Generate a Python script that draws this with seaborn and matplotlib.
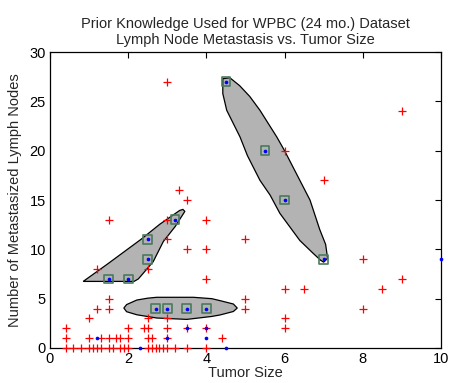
import numpy as np
import pandas as pd
import matplotlib
matplotlib.use("Agg")
import matplotlib.pyplot as plt
from matplotlib.patches import Polygon
import seaborn as sns

# ---------------- data ----------------
# non-recurrent cases (red +)
red_size = [3, 3.3, 3.5, 9, 6, 7, 1.5, 3, 4, 3, 5, 3.5, 4, 1.2, 2.5, 4, 9, 8, 6, 6.5, 8.5,
            1.5, 5, 1.2, 1.5, 5, 8, 1, 2.5, 3, 6,
            0.4, 2.0, 2.4, 2.5, 3.0, 3.5, 4.0, 6.0,
            0.4, 1.0, 1.3, 1.5, 1.7, 1.8, 2.0, 2.5, 2.6, 3.0, 4.4,
            0.4, 0.6, 0.8, 1.0, 1.1, 1.2, 1.3, 1.5, 1.6, 1.8, 1.9, 2.0, 2.5, 2.6, 2.7, 2.8,
            2.9, 3.0, 3.2, 3.5, 4.0]
red_nodes = [27, 16, 15, 24, 20, 17, 13, 13, 13, 11, 11, 10, 10, 8, 8, 7, 7, 9, 6, 6, 6,
             5, 5, 4, 4, 4, 4, 3, 3, 3, 3,
             2, 2, 2, 2, 2, 2, 2, 2,
             1, 1, 1, 1, 1, 1, 1, 1, 1, 1, 1,
             0, 0, 0, 0, 0, 0, 0, 0, 0, 0, 0, 0, 0, 0, 0, 0,
             0, 0, 0, 0, 0]
# recurrent cases (blue dots)
blue_size = [1.5, 2, 2.5, 2.5, 3.2, 2.7, 3, 3.5, 4, 4.5, 5.5, 6, 7,
             10, 4, 4, 3.5, 3, 1.2, 2.3, 4.5]
blue_nodes = [7, 7, 9, 11, 13, 4, 4, 4, 4, 27, 20, 15, 9,
              9, 1, 2, 2, 1, 1, 0, 0]
# prior-knowledge points (squares)
prior_size = [1.5, 2, 2.5, 2.5, 3.2, 2.7, 3, 3.5, 4, 4.5, 5.5, 6, 7]
prior_nodes = [7, 7, 9, 11, 13, 4, 4, 4, 4, 27, 20, 15, 9]

# prior-knowledge region outlines
region_a = [(0.85, 6.75), (1.45, 8.45), (2.34, 11.05), (2.81, 12.55), (3.32, 13.95),
            (3.4, 14.05), (3.45, 13.85), (3.2, 12.3), (2.9, 10.8), (2.64, 8.75),
            (2.26, 7.0), (2.15, 6.75)]
region_b = [(1.89, 4.05), (1.96, 4.4), (2.22, 4.86), (2.5, 5.05), (2.73, 5.14), (3.67, 5.14),
            (4.14, 5.0), (4.35, 4.8), (4.69, 4.46), (4.79, 4.05), (4.69, 3.7), (4.35, 3.35),
            (4.14, 3.2), (3.5, 2.9), (2.73, 3.04), (2.22, 3.37), (1.96, 3.68)]
region_c = [(4.42, 27.3), (4.6, 27.4), (4.85, 26.6), (5.11, 25.5), (5.37, 24.1), (5.8, 21.4),
            (6.0, 20.0), (6.39, 17.0), (6.65, 15.0), (6.9, 12.0), (7.05, 10.5), (7.1, 9.1),
            (7.0, 8.7), (6.92, 8.9), (6.73, 9.6), (6.39, 10.9), (5.88, 13.65), (5.63, 15.5),
            (5.37, 17.0), (5.05, 19.5), (4.86, 21.4), (4.52, 24.1), (4.42, 25.8)]

title_text = "Prior Knowledge Used for WPBC (24 mo.) Dataset\nLymph Node Metastasis vs. Tumor Size"
x_label = "Tumor Size"
y_label = "Number of Metastasized Lymph Nodes"
x_ticks = [0, 2, 4, 6, 8, 10]
y_ticks = [0, 5, 10, 15, 20, 25, 30]

# ---------------- plot ----------------
sns.set_style("white")
plt.rcParams['font.family'] = ['Liberation Sans', 'DejaVu Sans']

fig = plt.figure(figsize=(4.5, 3.83), dpi=100)
ax = fig.add_axes([0.111, 0.0914, 0.869, 0.7726])

for reg in (region_a, region_b, region_c):
    ax.add_patch(Polygon(reg, closed=True, facecolor='#b3b3b3', edgecolor='black',
                         linewidth=0.9, zorder=1))

red_df = pd.DataFrame({"size": red_size, "nodes": red_nodes})
blue_df = pd.DataFrame({"size": blue_size, "nodes": blue_nodes})
prior_df = pd.DataFrame({"size": prior_size, "nodes": prior_nodes})

sns.scatterplot(data=red_df, x="size", y="nodes", marker='+', color='#ff0000', s=32,
                linewidth=0.9, ax=ax, zorder=3, clip_on=False)
sns.scatterplot(data=blue_df, x="size", y="nodes", marker='o', color='#0000ff', s=7,
                linewidth=0, ax=ax, zorder=4, clip_on=False)
sns.scatterplot(data=prior_df, x="size", y="nodes", marker='s', facecolor='none',
                edgecolor='#4a7a5c', s=40, linewidth=1.2, ax=ax, zorder=5)

ax.set_xlim(0, 10)
ax.set_ylim(0, 30)
ax.set_xticks(x_ticks)
ax.set_yticks(y_ticks)
ax.tick_params(direction='in', length=4, width=0.8, top=True, right=True,
               labelsize=10.5, colors='black', pad=3)
for sp in ax.spines.values():
    sp.set_visible(True)
    sp.set_color('black')
    sp.set_linewidth(0.9)
ax.set_xlabel(x_label, fontsize=10.5, labelpad=0)
ax.set_ylabel(y_label, fontsize=10.5, labelpad=5)
ax.set_title(title_text, fontsize=10.5, pad=6, linespacing=1.15)

fig.savefig("out.png", dpi=100)
